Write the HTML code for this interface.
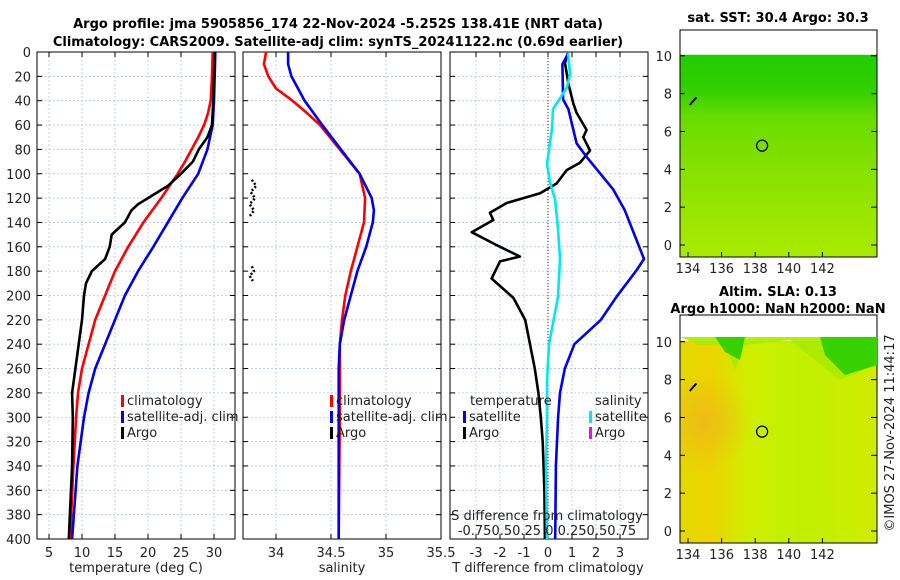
<!DOCTYPE html>
<html><head><meta charset="utf-8">
<style>
body{margin:0;background:#fff;}
svg{display:block;font-family:"DejaVu Sans","Liberation Sans",sans-serif;}
.t{font-size:13px;fill:#222;}
.b{font-size:13px;font-weight:bold;fill:#000;}
</style></head>
<body>
<svg id="fig" width="900" height="580" viewBox="0 0 900 580" xmlns="http://www.w3.org/2000/svg">
<defs>
<linearGradient id="g1" x1="0" y1="0" x2="0" y2="1">
<stop offset="0" stop-color="#22cc00"/><stop offset="0.18" stop-color="#33d000"/><stop offset="0.3" stop-color="#66dc00"/><stop offset="0.5" stop-color="#7fe000"/><stop offset="0.8" stop-color="#9ae600"/><stop offset="1" stop-color="#aaea00"/>
</linearGradient>
<linearGradient id="g2" x1="0" y1="0" x2="1" y2="0">
<stop offset="0" stop-color="#e4d800"/><stop offset="0.15" stop-color="#ecd400"/><stop offset="0.35" stop-color="#d0ee00"/><stop offset="0.6" stop-color="#c0f000"/><stop offset="1" stop-color="#d0ec00"/>
</linearGradient>
<radialGradient id="g2o" cx="0.12" cy="0.4" r="0.25"><stop offset="0" stop-color="#f0b020" stop-opacity="0.7"/><stop offset="1" stop-color="#f0b020" stop-opacity="0"/></radialGradient>
</defs>
<text class="b" x="338" y="28" text-anchor="middle">Argo profile: jma 5905856_174 22-Nov-2024 -5.252S 138.41E (NRT data)</text>
<text class="b" x="338" y="46" text-anchor="middle">Climatology: CARS2009. Satellite-adj clim: synTS_20241122.nc (0.69d earlier)</text>
<g id="p1"></g>
<g id="p2"></g>
<g id="p3"></g>
<g id="maps"></g>
<text class="t" x="0" y="0" transform="translate(894,433) rotate(-90)" text-anchor="middle">©IMOS 27-Nov-2024 11:44:17</text>
</svg>
<script>
// ---- data ----
const depthTicks=[0,20,40,60,80,100,120,140,160,180,200,220,240,260,280,300,320,340,360,380,400];
const tTicks=[5,10,15,20,25,30];
const sTicks=[34,34.5,35,35.5];
const sTickLabels=["34","34.5","35","35.5"];
const dTicks=[-3,-2,-1,0,1,2,3];
const climTDepth=[0,20,40,50,60,70,80,90,100,120,140,160,180,200,220,240,260,280,300,340,400];
const climT=[29.8,29.7,29.5,29.1,28.5,27.6,26.6,25.6,24.5,22,19.3,17,15,13.5,12,11,10,9.4,9.1,8.7,8.2];
const satTDepth=[0,20,40,60,80,100,120,140,160,180,200,220,240,260,280,300,340,400];
const satT=[30.2,30.1,30,29.8,29,27.6,25.2,23,20.8,18.5,16.5,15,13.5,12,11,10.3,9.3,8.5];
const argoTDepth=[0,20,40,60,70,80,90,100,110,120,125,130,140,145,150,160,170,175,180,190,200,220,240,260,280,300,340,400];
const argoT=[30.1,30,29.9,29.7,29,27.7,26.8,25,23,20,18.5,17.5,16.5,15.5,14.5,14.2,13.5,12.5,11.5,10.6,10.3,10,9.5,9,8.5,8.6,8.5,8];
const climSDepth=[0,10,20,30,40,50,60,80,100,120,140,160,180,200,220,240,260,300,400];
const climS=[33.91,33.89,33.93,34.0,34.15,34.28,34.4,34.58,34.76,34.81,34.8,34.74,34.68,34.63,34.6,34.58,34.58,34.58,34.57];
const satSDepth=[0,10,20,40,60,80,100,120,130,140,160,180,200,220,240,260,300,400];
const satS=[34.11,34.11,34.14,34.26,34.42,34.59,34.76,34.87,34.89,34.88,34.82,34.74,34.68,34.62,34.58,34.57,34.57,34.57];
const argoSDepth1=[105,110,115,120,125,130,135];
const argoS1=[33.78,33.82,33.77,33.81,33.76,33.8,33.76];
const argoSDepth2=[176,180,184,188];
const argoS2=[33.78,33.8,33.76,33.79];
const dArgoDepth=[1,9,26,42,50,64,70,81,91,97,108,116,124,132,138,148,158,168,172,186,202,220,240,260,280,300,320,360,400];
const dArgoT=[0.82,0.71,0.85,1.05,1.19,1.61,1.47,1.75,1.33,0.78,0.36,-0.33,-1.72,-2.42,-2.28,-3.18,-2.2,-1.17,-2.0,-2.35,-1.44,-0.95,-0.75,-0.55,-0.4,-0.3,-0.22,-0.15,-0.13];
const dSatDepth=[1,10,39,47,75,86,113,130,170,179,201,220,240,260,280,300,340,400];
const dSatT=[0.85,0.6,0.63,0.85,1.19,1.6,2.72,3.2,4.0,3.7,2.86,2.2,1.1,0.7,0.5,0.42,0.33,0.3];
const dSatSDepth=[1,18,29,47,63,92,107,121,145,170,201,240,270,300,340,400];
const dSatS=[0.2,0.22,0.19,0.05,0.04,-0.01,0.02,0.07,0.1,0.12,0.1,0.01,-0.01,-0.01,-0.02,-0.01];
const dSTickLabels="-0.750.50.25 0 0.250.50.75";

// ---- axes ----
const NS="http://www.w3.org/2000/svg";
const Y0=52,Y1=539;
const yD=d=>Y0+(d/400)*(Y1-Y0);
const xT=t=>49+(t-5)*6.6;
const xS=s=>276+(s-34)*110;
const xDT=t=>548+t*24;
const xDS=s=>548+s*100;
function el(tag,attrs,parent){const e=document.createElementNS(NS,tag);for(const k in attrs)e.setAttribute(k,attrs[k]);parent.appendChild(e);return e;}
function panel(g,x0,x1,xticks,xf,labels){
  depthTicks.forEach(d=>{const l=el('line',{x1:x0,x2:x1,y1:yD(d),y2:yD(d),stroke:'#b8c4e8','stroke-width':0.8,'stroke-dasharray':'2,2'},g);
    
    el('line',{x1:x0,x2:x0+5,y1:yD(d),y2:yD(d),stroke:'#000'},g);el('line',{x1:x1-5,x2:x1,y1:yD(d),y2:yD(d),stroke:'#000'},g);});
  xticks.forEach((t,i)=>{const x=xf(t);
    const l=el('line',{x1:x,x2:x,y1:Y0,y2:Y1,stroke:'#b8c4e8','stroke-width':0.8,'stroke-dasharray':'2,2'},g);
    
    el('line',{x1:x,x2:x,y1:Y1-5,y2:Y1,stroke:'#000'},g);el('line',{x1:x,x2:x,y1:Y0,y2:Y0+5,stroke:'#000'},g);
    const tx=el('text',{x:x,y:Y1+18,'text-anchor':'middle',class:'t'},g);tx.textContent=labels?labels[i]:String(t);
    });
  const r=el('rect',{x:x0,y:Y0,width:x1-x0,height:Y1-Y0,fill:'none',stroke:'#000','stroke-width':1},g);
  
}
function line(g,ds,vs,xf,color,name,w,dash){
  const pts=ds.map((d,i)=>xf(vs[i]).toFixed(1)+','+yD(d).toFixed(1)).join(' ');
  const p=el('polyline',{points:pts,fill:'none',stroke:color,'stroke-width':w||2.6,'stroke-linejoin':'round'},g);
  if(dash)p.setAttribute('stroke-dasharray',dash);
  
}
function legend(g,x,y,items){items.forEach((it,i)=>{
  const yy=y+i*16;
  const r=el('rect',{x:x,y:yy-10,width:3,height:12,fill:it[1]},g);
  
  const t=el('text',{x:x+6,y:yy,class:'t'},g);t.textContent=it[0];
  });}
function txt(g,x,y,s,anchor,name){const t=el('text',{x:x,y:y,class:'t','text-anchor':anchor||'start'},g);t.textContent=s;
  return t;}

// panel 1
const p1=document.getElementById('p1');
panel(p1,37,235,tTicks,xT);
depthTicks.forEach(d=>{txt(p1,31,yD(d)+5,String(d),'end','y-tick-label');});
line(p1,climTDepth,climT,xT,'#f00','clim-temp-line');
line(p1,satTDepth,satT,xT,'#0000f0','sat-temp-line');
line(p1,argoTDepth,argoT,xT,'#000','argo-temp-line');
legend(p1,121,405,[["climatology","#f00"],["satellite-adj. clim","#0000f0"],["Argo","#000"]]);
txt(p1,136,572,"temperature (deg C)",'middle','x-axis-title-temperature');
// panel 2
const p2=document.getElementById('p2');
panel(p2,243,441,sTicks,xS,sTickLabels);
line(p2,climSDepth,climS,xS,'#f00','clim-sal-line');
line(p2,satSDepth,satS,xS,'#0000f0','sat-sal-line');
line(p2,argoSDepth1,argoS1,xS,'#000','argo-sal-line-1',2.5,'2,2');
line(p2,argoSDepth2,argoS2,xS,'#000','argo-sal-line-2',2.5,'2,2');
legend(p2,330,405,[["climatology","#f00"],["satellite-adj. clim","#0000f0"],["Argo","#000"]]);
txt(p2,342,572,"salinity",'middle','x-axis-title-salinity');
// panel 3
const p3=document.getElementById('p3');
panel(p3,450,648,dTicks,xDT);
el('line',{x1:xDT(0),x2:xDT(0),y1:Y0,y2:Y1,stroke:'#333','stroke-dasharray':'1,2'},p3);
line(p3,dArgoDepth,dArgoT,xDT,'#000','argo-tdiff-line');
line(p3,dSatDepth,dSatT,xDT,'#0000f0','sat-tdiff-line');
line(p3,dSatSDepth,dSatS,xDS,'#00e8f0','sat-sdiff-line');
txt(p3,470,405,"temperature",'start','legend-title-temperature');
txt(p3,595,405,"salinity",'start','legend-title-salinity');
legend(p3,463,421,[["satellite","#0000f0"],["Argo","#000"]]);
legend(p3,589,421,[["satellite","#00e8f0"],["Argo","#f0f"]]);
txt(p3,547,520,"S difference from climatology",'middle','s-axis-title');
txt(p3,547,535,dSTickLabels,'middle','s-axis-tick-labels');
txt(p3,548,572,"T difference from climatology",'middle','x-axis-title-tdiff');

// maps
const mp=document.getElementById('maps');
const latTicks=[0,2,4,6,8,10];
const lonTicks=[134,136,138,140,142];
function map(top,by0,by1,fill,name,extra){
  const lx=l=>688+(l-134)*16.8;
  const ly=v=>by1-12-(v)*(by1-12-by0-1)/10.2;
  const fy0=ly(10)-1;
  const r=el('rect',{x:680,y:fy0,width:197,height:by1-fy0,fill:fill},mp);
  
  if(extra){el('rect',{x:680,y:fy0,width:197,height:by1-fy0,fill:extra},mp);}
  const f=el('rect',{x:680,y:top,width:197,height:by1-top,fill:'none',stroke:'#000'},mp);
  
  latTicks.forEach(v=>{el('line',{x1:871,x2:877,y1:ly(v),y2:ly(v),stroke:'#000'},mp);el('line',{x1:680,x2:685,y1:ly(v),y2:ly(v),stroke:'#000'},mp);
    txt(mp,672,ly(v)+5,String(v),'end','map-lat-label');});
  lonTicks.forEach(v=>{el('line',{x1:lx(v),x2:lx(v),y1:by1-5,y2:by1,stroke:'#000'},mp);
    txt(mp,lx(v),by1+16,String(v),'middle','map-lon-label');});
  const c=el('circle',{cx:lx(138.41),cy:ly(5.252),r:5.5,fill:'none',stroke:'#000','stroke-width':1.3},mp);
  
  el('path',{d:`M${lx(134.1)} ${ly(7.4)} L${lx(134.5)} ${ly(7.8)}`,stroke:'#000','stroke-width':2},mp);
}
map(30,51,257,'url(#g1)','sst-map');
map(315,337,543,'url(#g2)','sla-map','url(#g2o)');
el('path',{d:'M680 337 L877 337 L877 365 L840 380 L815 360 L790 340 L745 345 L735 370 L725 345 L700 345 Z',fill:'#a8ea00',opacity:0.9},mp);
el('path',{d:'M715 337 L745 337 L740 360 L725 352 Z M820 337 L877 337 L877 365 L845 375 L825 355 Z',fill:'#22cc00',opacity:0.85},mp);
txt(mp,778,22,"sat. SST: 30.4  Argo: 30.3",'middle','sst-map-title').setAttribute('class','b');
txt(mp,778,296,"Altim. SLA: 0.13",'middle','sla-map-title').setAttribute('class','b');
txt(mp,778,313,"Argo h1000: NaN h2000: NaN",'middle','argo-height-title').setAttribute('class','b');
</script>
</body></html>
